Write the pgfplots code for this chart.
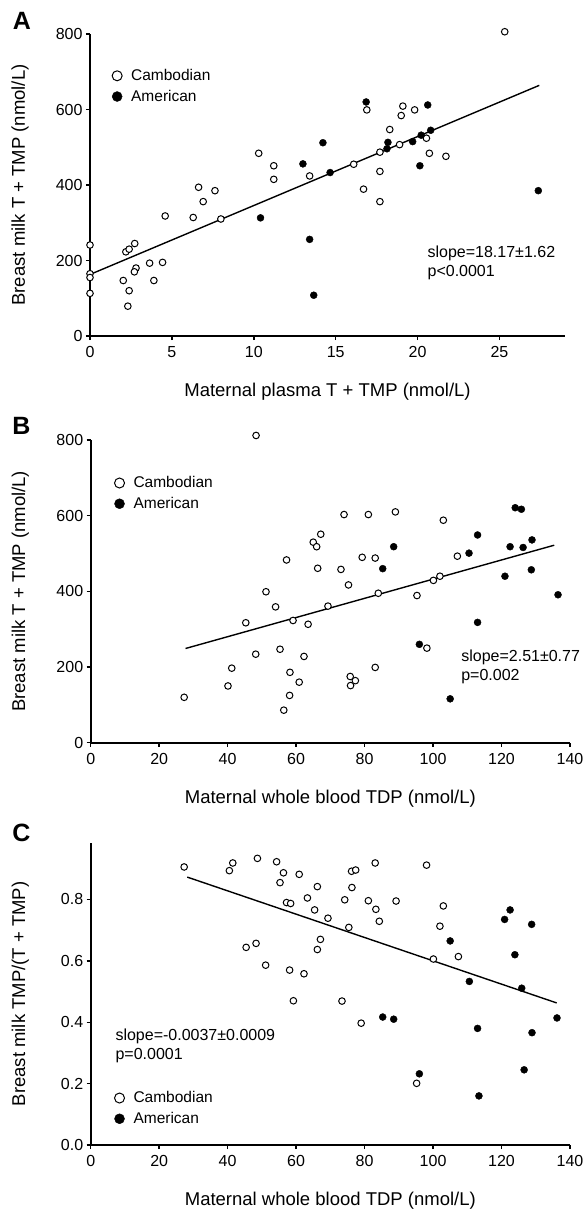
\documentclass[border=0pt]{standalone}
\usepackage{pgfplots}
\pgfplotsset{compat=1.18}
\usepackage{fontspec}
\setmainfont{Liberation Sans}

\newcommand{\fs}{\fontsize{16}{18}\selectfont}
\newcommand{\fl}{\fontsize{18.5}{20}\selectfont}
\newcommand{\fg}{\fontsize{15.5}{17}\selectfont}

\pgfplotsset{
  panel/.style={
    scale only axis, clip=false,
    axis lines*=left,
    axis line style={line width=1.8pt},
    every tick/.style={black, line width=1.5pt},
    tick align=outside, major tick length=4pt,
    tick label style={font=\fs},
    xticklabel style={yshift=-3pt},
    /pgf/number format/assume math mode=true,
    xlabel style={font=\fl, at={(axis description cs:0.5,-0.185)}, anchor=center},
    ylabel style={font=\fl, at={(axis description cs:-0.147,0.5)}, anchor=center},
    legend style={draw=none, fill=none, font=\fg, anchor=north west, inner sep=0pt, row sep=4pt,
      /tikz/every odd column/.append style={column sep=7pt}},
    legend cell align=left,
    legend image code/.code={\draw[#1, mark size=5pt] plot coordinates {(0pt,0pt)};},
  },
  cam/.style={only marks, mark=*, mark size=3.3pt, mark options={fill=white, draw=black, line width=1pt}},
  ame/.style={only marks, mark=*, mark size=3.5pt, black, mark options={fill=black, draw=black}},
  fit/.style={black, line width=1.4pt, no marks, forget plot},
}

\begin{document}
\begin{tikzpicture}
\path[use as bounding box] (0pt,0pt) rectangle (585pt,-1212pt);

% ---------------- A ----------------
\begin{axis}[panel, at={(90pt,-336pt)}, anchor=south west,
  width=475pt, height=302pt,
  xmin=0, xmax=29, ymin=0, ymax=800,
  xtick={0,5,...,25}, ytick={0,200,...,800},
  xlabel={Maternal plasma T + TMP (nmol/L)},
  ylabel={Breast milk T + TMP (nmol/L)},
  legend style={at={(axis cs:1.34,712)}}]
\addplot[cam] coordinates {(0,241) (0,165) (0,155) (0,113) (2.03,147) (2.19,223) (2.39,230) (2.73,245) (2.39,120) (2.31,79) (2.81,180) (2.71,170) (3.64,193) (3.9,147) (4.43,195) (4.59,318) (6.3,314) (6.63,394) (6.91,356) (7.63,385) (7.99,310) (10.3,484) (11.22,451) (11.22,415) (25.32,806) (16.9,599) (19.1,609) (19.82,599) (19.0,584) (18.3,547) (17.7,487) (16.1,455) (13.41,424) (18.9,507) (20.54,524) (20.72,484) (21.73,476) (17.7,436) (16.7,389) (17.7,356)};
\addlegendentry{Cambodian}
\addplot[ame] coordinates {(10.41,313) (16.86,620) (20.62,612) (14.22,512) (13.0,456) (14.66,433) (18.19,513) (18.13,496) (19.7,515) (20.22,532) (20.8,545) (20.14,451) (27.37,385) (13.41,256) (13.66,108)};
\addlegendentry{American}
\addplot[fit] coordinates {(0,163) (27.43,664)};
\node[anchor=west, inner sep=0pt, font=\fs] at (axis cs:20.6,220) {slope=18.17±1.62};
\node[anchor=west, inner sep=0pt, font=\fs] at (axis cs:20.6,167) {p<0.0001};
\end{axis}
\node[font=\bfseries\fontsize{25}{25}\selectfont] at (22pt,-21pt) {A};

% ---------------- B ----------------
\begin{axis}[panel, at={(90.7pt,-742.7pt)}, anchor=south west,
  width=479.3pt, height=302.7pt,
  xmin=0, xmax=140, ymin=0, ymax=800,
  xtick={0,20,...,140}, ytick={0,200,...,800},
  xlabel={Maternal whole blood TDP (nmol/L)},
  ylabel={Breast milk T + TMP (nmol/L)},
  legend style={at={(axis cs:6.9,709)}}]
\addplot[cam] coordinates {(48.3,812) (57.2,483) (51.2,399) (74.0,603) (81.1,603) (89.0,610) (103.0,588) (67.2,551) (65.0,530) (66.0,518) (79.3,490) (83.1,488) (107.1,493) (66.3,461) (73.1,458) (75.3,417) (84.0,395) (100.1,429) (102.0,440) (95.3,389) (54.0,359) (45.3,317) (59.1,323) (48.2,234) (55.3,247) (41.2,197) (58.2,186) (60.9,160) (40.1,150) (58.1,125) (56.4,86) (27.3,120) (69.3,361) (63.5,313) (98.2,250) (62.3,228) (83.1,199) (75.8,175) (77.3,164) (75.9,151)};
\addlegendentry{Cambodian}
\addplot[ame] coordinates {(124.0,621) (125.8,617) (113.0,549) (88.5,518) (128.9,536) (122.5,518) (126.3,516) (110.5,501) (85.3,460) (121.0,440) (128.7,457) (136.5,391) (113.0,318) (96.0,260) (105.0,116)};
\addlegendentry{American}
\addplot[fit] coordinates {(27.7,249) (135.4,522)};
\node[anchor=west, inner sep=0pt, font=\fs] at (axis cs:108.2,225.7) {slope=2.51±0.77};
\node[anchor=west, inner sep=0pt, font=\fs] at (axis cs:108.2,174.4) {p=0.002};
\end{axis}
\node[font=\bfseries\fontsize{25}{25}\selectfont] at (21.5pt,-426pt) {B};

% ---------------- C ----------------
\begin{axis}[panel, at={(90.7pt,-1145pt)}, anchor=south west,
  width=479.3pt, height=302.3pt,
  xmin=0, xmax=140, ymin=0, ymax=0.985,
  xtick={0,20,...,140}, ytick={0,0.2,...,0.8},
  yticklabel style={/pgf/number format/.cd, fixed, fixed zerofill, precision=1},
  xlabel={Maternal whole blood TDP (nmol/L)},
  ylabel={Breast milk TMP/(T + TMP)},
  legend style={at={(axis cs:6.9,0.181)}}]
\addplot[cam] coordinates {(27.3,0.906) (40.5,0.894) (41.5,0.919) (48.7,0.934) (54.3,0.923) (56.3,0.887) (55.3,0.855) (60.9,0.882) (57.2,0.790) (58.4,0.787) (45.4,0.644) (48.3,0.657) (51.1,0.586) (58.1,0.570) (83.1,0.919) (98.1,0.912) (76.2,0.892) (77.4,0.896) (66.2,0.842) (76.3,0.839) (63.3,0.805) (74.2,0.799) (81.1,0.796) (89.2,0.795) (65.4,0.766) (83.3,0.768) (103.0,0.779) (69.3,0.739) (84.3,0.729) (75.4,0.709) (102.0,0.713) (67.1,0.670) (66.2,0.637) (100.1,0.606) (107.4,0.614) (62.3,0.558) (59.2,0.470) (73.4,0.469) (79.0,0.397) (95.2,0.201)};
\addlegendentry{Cambodian}
\addplot[ame] coordinates {(122.5,0.766) (120.9,0.735) (128.8,0.719) (105.0,0.665) (123.9,0.620) (110.6,0.533) (125.9,0.511) (85.3,0.417) (88.5,0.410) (113.0,0.380) (128.9,0.366) (136.2,0.414) (96.0,0.232) (126.6,0.245) (113.4,0.160)};
\addlegendentry{American}
\addplot[fit] coordinates {(28.2,0.873) (136.1,0.463)};
\node[anchor=west, inner sep=0pt, font=\fs] at (axis cs:7.2,0.353) {slope=-0.0037±0.0009};
\node[anchor=west, inner sep=0pt, font=\fs] at (axis cs:7.2,0.290) {p=0.0001};
\end{axis}
\node[font=\bfseries\fontsize{25}{25}\selectfont] at (21.5pt,-833pt) {C};

\end{tikzpicture}
\end{document}
